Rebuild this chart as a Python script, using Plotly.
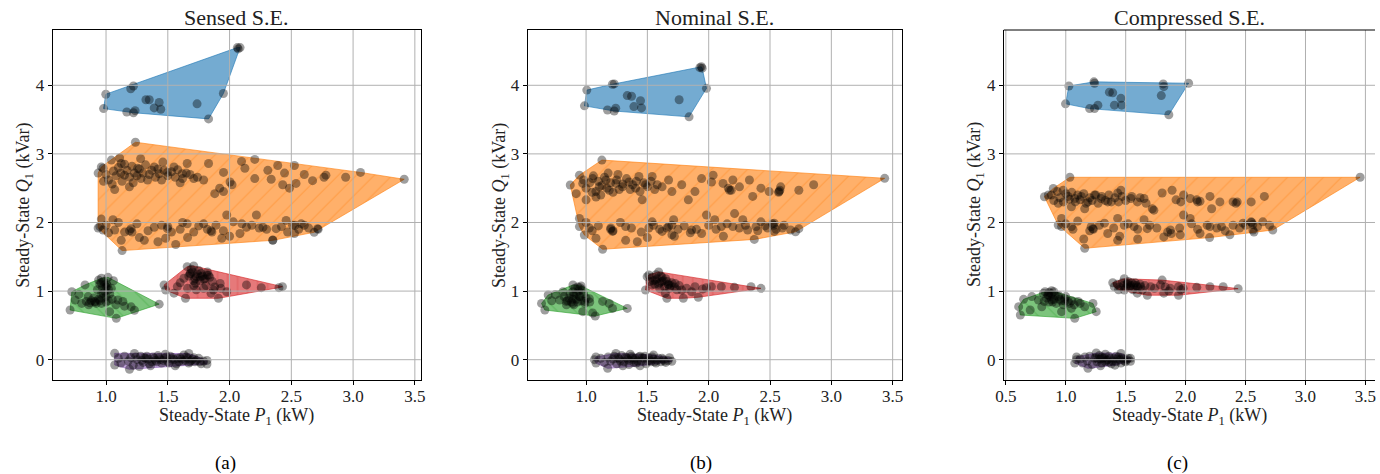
import plotly.graph_objects as go

# ---------------------------------------------------------------------------
# Steady-state operating points (P1 in kW, Q1 in kVar) for five load groups,
# under three state-estimation variants.
# ---------------------------------------------------------------------------

panel_titles = ["Sensed S.E.", "Nominal S.E.", "Compressed S.E."]
panel_captions = ["(a)", "(b)", "(c)"]
x_ticks_ab = [1.0, 1.5, 2.0, 2.5, 3.0, 3.5]
x_ticks_c = [0.5, 1.0, 1.5, 2.0, 2.5, 3.0, 3.5]
y_ticks = [0, 1, 2, 3, 4]

# ---- Sensed S.E. ----
sensed_blue = [(2.063, 4.55), (2.085, 4.55), (2.07, 4.53), (1.222, 3.99), (1.20, 3.95), (0.998, 3.87),
               (0.98, 3.66), (1.168, 3.61), (1.222, 3.60), (1.235, 3.63), (1.323, 3.79), (1.35, 3.79),
               (1.43, 3.75), (1.39, 3.67), (1.443, 3.65), (1.737, 3.73), (1.95, 3.88), (1.83, 3.51)]

sensed_orange = [(0.936, 2.72), (0.962, 2.81), (1.238, 3.17), (3.06, 2.73), (3.414, 2.63), (2.717, 1.90),
                 (2.685, 1.857), (2.35, 1.745), (1.13, 1.59), (0.936, 1.92), (0.95, 1.94),
                 (0.976, 2.79), (1.043, 2.91), (1.123, 2.86), (1.149, 2.69), (1.189, 2.52), (1.256, 2.79),
                 (1.283, 2.64), (1.336, 2.62), (1.39, 2.81), (1.43, 2.71), (1.497, 2.73), (1.55, 2.81),
                 (1.617, 2.71), (1.657, 2.86), (1.71, 2.64), (1.79, 2.62), (1.83, 2.86), (1.951, 2.73),
                 (2.004, 2.59), (1.951, 2.45), (2.097, 2.89), (2.204, 2.92), (2.124, 2.79), (2.204, 2.64),
                 (2.31, 2.76), (2.337, 2.63), (2.39, 2.83), (2.445, 2.72), (2.525, 2.83), (2.538, 2.57),
                 (2.485, 2.50), (2.605, 2.70), (2.672, 2.61), (2.765, 2.66), (2.78, 2.69), (2.94, 2.66),
                 (1.0, 2.70), (1.02, 2.62), (1.06, 2.75), (1.08, 2.68), (1.10, 2.80), (1.12, 2.72),
                 (1.15, 2.85), (1.17, 2.76), (1.19, 2.66), (1.21, 2.82), (1.23, 2.72), (1.25, 2.68),
                 (1.27, 2.78), (1.30, 2.72), (1.32, 2.84), (1.35, 2.70), (1.37, 2.76), (1.40, 2.66),
                 (1.42, 2.78), (1.45, 2.62), (1.47, 2.76), (1.50, 2.68), (1.53, 2.74), (1.56, 2.66),
                 (1.58, 2.77), (1.62, 2.64), (1.65, 2.72), (1.68, 2.70), (1.74, 2.66), (0.98, 2.60),
                 (1.05, 2.56), (1.13, 2.60), (1.22, 2.58), (1.28, 2.93), (1.11, 2.94), (1.46, 2.88),
                 (1.60, 2.58), (1.88, 2.42), (1.92, 2.50), (2.43, 2.55), (2.02, 2.55), (1.07, 2.48),
                 (0.962, 2.05), (0.976, 1.89), (1.056, 2.04), (1.07, 1.89), (1.123, 1.74), (1.203, 1.91),
                 (1.31, 1.74), (1.39, 1.93), (1.497, 1.91), (1.483, 1.77), (1.564, 1.68), (1.657, 1.98),
                 (1.71, 1.86), (1.79, 1.98), (1.857, 1.86), (1.937, 1.77), (1.977, 2.11), (2.03, 2.01),
                 (2.084, 1.84), (2.137, 1.93), (2.217, 2.11), (2.27, 1.93), (2.35, 1.74), (2.377, 1.91),
                 (2.458, 2.03), (2.51, 1.96), (2.525, 1.84), (2.605, 1.96), (2.712, 1.91),
                 (1.0, 1.96), (1.02, 1.85), (1.10, 2.00), (1.15, 1.86), (1.19, 1.88), (1.21, 1.86),
                 (1.25, 1.98), (1.34, 1.88), (1.45, 1.96), (1.50, 1.94), (1.53, 1.86), (1.60, 1.90),
                 (1.62, 2.00), (1.75, 1.95), (1.82, 1.90), (1.85, 1.88), (1.89, 1.96), (1.95, 1.88),
                 (2.10, 1.98), (2.18, 1.96), (2.24, 1.92), (2.30, 1.90), (2.42, 1.94), (2.47, 1.86),
                 (2.53, 1.96), (2.56, 1.90), (2.58, 1.98), (2.64, 1.92), (1.27, 1.78), (1.42, 1.72),
                 (1.66, 1.78), (2.00, 1.80)]

sensed_green = [(0.709, 0.724), (0.723, 0.99), (0.963, 1.187), (1.016, 1.20), (1.083, 0.603), (1.43, 0.81),
                (0.83, 1.09), (0.855, 0.92), (0.909, 0.85), (0.963, 0.82), (1.003, 1.11), (1.043, 1.04),
                (1.096, 0.87), (1.136, 0.85), (1.203, 0.77), (1.23, 0.72), (1.029, 0.70), (0.976, 0.97),
                (0.803, 0.82), (0.75, 0.87), (0.95, 1.10), (0.97, 1.05), (0.99, 1.00), (1.01, 1.08),
                (0.96, 0.95), (1.00, 0.92), (1.03, 0.96), (0.98, 1.14), (0.93, 1.02), (0.88, 0.86),
                (0.92, 0.82), (0.86, 0.80), (0.95, 0.86), (1.00, 0.84), (1.05, 0.88), (0.90, 0.90),
                (0.84, 0.85), (1.06, 1.15), (0.94, 1.16), (1.02, 1.02), (1.08, 0.80), (1.15, 0.78),
                (0.78, 0.95), (0.96, 1.12), (1.00, 1.06), (0.97, 0.90), (0.91, 0.84), (0.87, 0.83),
                (1.02, 0.86), (0.99, 1.09), (0.94, 0.88)]

sensed_red = [(1.47, 1.089), (1.483, 1.016), (1.657, 1.356), (1.71, 1.365), (2.428, 1.065), (1.643, 0.895),
              (1.91, 0.895), (2.40, 1.05), (1.684, 1.26), (1.764, 1.21), (1.817, 1.234), (1.724, 1.113),
              (1.79, 1.04), (1.87, 1.016), (1.924, 1.11), (1.977, 0.99), (1.577, 1.065), (1.55, 0.97),
              (2.137, 1.09), (2.257, 1.05), (1.85, 0.97), (1.63, 1.187), (1.67, 1.22), (1.70, 1.28),
              (1.72, 1.18), (1.74, 1.25), (1.76, 1.15), (1.78, 1.22), (1.80, 1.18), (1.82, 1.28),
              (1.84, 1.20), (1.86, 1.14), (1.69, 1.32), (1.75, 1.30), (1.71, 1.08), (1.81, 1.08),
              (1.88, 1.06), (1.66, 1.04), (1.60, 1.12), (1.93, 1.04), (1.73, 1.02), (1.68, 1.25),
              (1.73, 1.21), (1.77, 1.26), (1.79, 1.17), (1.83, 1.23), (1.71, 1.15)]

sensed_purple = [(1.07, 0.093), (1.07, -0.077), (1.19, -0.14), (1.817, -0.063), (1.817, -0.01), (1.67, 0.09),
                 (1.23, 0.09), (1.10, 0.02), (1.12, -0.05), (1.15, 0.05), (1.18, -0.02), (1.20, 0.03),
                 (1.22, -0.08), (1.25, 0.00), (1.28, 0.05), (1.30, -0.04), (1.32, 0.02), (1.35, -0.06),
                 (1.38, 0.04), (1.40, -0.01), (1.42, 0.06), (1.45, -0.05), (1.47, 0.02), (1.50, -0.03),
                 (1.52, 0.05), (1.55, 0.00), (1.57, -0.06), (1.60, 0.03), (1.62, -0.02), (1.65, 0.04),
                 (1.67, -0.05), (1.70, 0.01), (1.72, -0.03), (1.75, 0.02), (1.77, -0.06), (1.79, -0.02),
                 (1.48, 0.08), (1.36, -0.09), (1.56, -0.09), (1.27, -0.10), (1.63, 0.07), (1.44, 0.00),
                 (1.53, 0.01), (1.58, 0.02), (1.41, -0.03), (1.69, -0.01), (1.34, 0.01), (1.24, 0.04),
                 (1.29, -0.01), (1.33, 0.05), (1.37, -0.03), (1.39, 0.02), (1.43, 0.03), (1.46, -0.01),
                 (1.49, 0.04), (1.51, -0.05), (1.54, 0.03), (1.59, -0.03), (1.61, 0.01), (1.64, -0.01),
                 (1.66, 0.02), (1.68, -0.03), (1.71, 0.03), (1.73, -0.01), (1.76, -0.03), (1.31, 0.03)]

# ---- Nominal S.E. ----
nominal_blue = [(1.928, 4.257), (1.947, 4.25), (1.94, 4.27), (1.982, 3.956), (1.006, 3.93), (0.987, 3.70),
                (1.175, 3.64), (1.23, 3.625), (1.242, 3.665), (1.215, 4.015), (1.23, 4.02), (1.336, 3.85),
                (1.371, 3.84), (1.444, 3.775), (1.39, 3.69), (1.452, 3.67), (1.759, 3.79), (1.84, 3.54)]

nominal_orange = [(1.129, 2.91), (3.435, 2.644), (0.871, 2.547), (0.946, 2.69), (0.946, 1.94), (0.986, 1.818),
                  (1.135, 1.61), (2.372, 1.753), (2.708, 1.864), (2.735, 1.91),
                  (1.054, 2.64), (1.108, 2.52), (1.189, 2.47), (1.243, 2.57), (1.297, 2.52), (1.35, 2.59),
                  (1.404, 2.50), (1.431, 2.67), (1.485, 2.55), (1.539, 2.67), (1.62, 2.52), (1.673, 2.62),
                  (1.70, 2.45), (1.78, 2.55), (1.834, 2.33), (1.888, 2.45), (1.942, 2.64), (2.023, 2.59),
                  (2.036, 2.69), (2.117, 2.57), (2.184, 2.47), (2.251, 2.52), (2.197, 2.62), (2.332, 2.62),
                  (2.359, 2.38), (2.426, 2.50), (2.493, 2.45), (2.574, 2.45), (2.587, 2.52), (2.735, 2.47),
                  (2.856, 2.55), (1.458, 2.33), (1.162, 2.62), (0.973, 2.57), (1.0, 2.33), (0.92, 2.42),
                  (1.081, 2.37), (0.98, 2.62), (1.00, 2.50), (1.03, 2.58), (1.06, 2.68), (1.08, 2.45),
                  (1.10, 2.60), (1.13, 2.54), (1.15, 2.66), (1.17, 2.50), (1.20, 2.58), (1.22, 2.44),
                  (1.25, 2.62), (1.27, 2.48), (1.30, 2.56), (1.33, 2.64), (1.36, 2.48), (1.38, 2.55),
                  (1.41, 2.60), (1.44, 2.45), (1.47, 2.58), (1.50, 2.52), (1.53, 2.60), (1.56, 2.48),
                  (1.58, 2.55), (1.12, 2.40), (1.05, 2.44), (1.26, 2.70), (1.18, 2.72), (2.16, 2.50),
                  (2.17, 2.47), (2.57, 2.44), (2.58, 2.47),
                  (0.946, 2.06), (1.027, 1.92), (1.081, 1.77), (1.202, 1.92), (1.216, 1.87), (1.323, 1.94),
                  (1.323, 1.74), (1.418, 1.72), (1.512, 1.92), (1.539, 2.01), (1.62, 1.87), (1.673, 1.94),
                  (1.714, 2.04), (1.70, 1.82), (1.861, 1.89), (1.942, 1.84), (1.982, 2.11), (2.049, 2.04),
                  (2.103, 1.94), (2.197, 1.94), (2.211, 2.13), (2.278, 2.04), (2.318, 1.89), (2.386, 1.94),
                  (2.426, 2.01), (2.534, 1.99), (2.534, 1.87), (2.614, 1.96), (2.668, 1.89), (2.48, 1.92),
                  (1.00, 2.00), (1.05, 1.88), (1.10, 1.95), (1.20, 1.90), (1.22, 1.88), (1.28, 2.00),
                  (1.37, 1.92), (1.45, 1.86), (1.55, 1.96), (1.60, 1.90), (1.66, 1.92), (1.70, 1.96),
                  (1.75, 1.90), (1.80, 1.95), (1.85, 1.85), (1.90, 1.90), (2.00, 1.96), (2.06, 1.90),
                  (2.15, 1.98), (2.25, 1.92), (2.30, 1.96), (2.40, 1.88), (2.46, 1.95), (2.52, 1.98),
                  (2.53, 1.96), (2.55, 1.90), (2.60, 1.92), (1.50, 1.78), (1.72, 1.80), (2.12, 1.80)]

nominal_green = [(0.691, 0.943), (0.664, 0.724), (0.893, 1.089), (0.96, 1.075), (1.336, 0.748), (1.075, 0.637),
                 (0.637, 0.82), (0.812, 0.99), (0.839, 0.85), (0.893, 0.82), (0.946, 0.92), (0.987, 0.85),
                 (1.027, 0.89), (0.893, 0.99), (0.933, 1.06), (1.135, 0.85), (1.216, 0.748), (1.189, 0.82),
                 (0.973, 0.70), (1.054, 0.68), (0.785, 0.87), (0.86, 0.90), (0.88, 0.84), (0.90, 0.94),
                 (0.92, 0.88), (0.94, 1.00), (0.96, 0.86), (0.98, 0.96), (1.00, 0.90), (0.91, 1.04),
                 (0.95, 1.05), (0.84, 0.80), (0.82, 0.92), (0.99, 0.82), (1.03, 0.84), (0.90, 0.80),
                 (0.87, 0.96), (0.75, 0.95), (0.72, 0.86), (0.92, 0.96), (0.95, 0.92), (0.89, 0.88),
                 (0.85, 0.86), (0.97, 1.02), (0.93, 0.84)]

nominal_red = [(1.498, 1.21), (1.485, 1.016), (1.512, 1.235), (1.592, 1.28), (1.659, 0.895), (1.793, 0.895),
               (1.915, 0.91), (2.426, 1.04), (2.345, 1.064), (1.565, 1.16), (1.619, 1.14), (1.673, 1.09),
               (1.726, 1.11), (1.78, 1.016), (1.861, 0.99), (1.888, 1.064), (2.022, 1.064), (2.103, 1.064),
               (2.21, 1.055), (1.538, 1.09), (1.646, 0.97), (1.52, 1.14), (1.54, 1.20), (1.56, 1.10),
               (1.58, 1.18), (1.60, 1.12), (1.62, 1.20), (1.64, 1.06), (1.66, 1.14), (1.68, 1.04),
               (1.70, 1.12), (1.72, 1.06), (1.74, 1.02), (1.76, 1.08), (1.60, 1.04), (1.57, 1.24),
               (1.65, 1.18), (1.82, 1.04), (1.95, 1.03), (1.98, 1.05), (1.55, 1.15), (1.59, 1.10),
               (1.63, 1.15), (1.67, 1.10), (1.61, 1.22), (1.69, 1.08)]

nominal_purple = [(1.068, 0.0), (1.699, -0.024), (1.243, 0.092), (1.176, -0.126), (1.081, -0.05), (1.68, 0.03),
                  (1.55, 0.07), (1.08, 0.04), (1.12, 0.02), (1.15, -0.04), (1.18, 0.04), (1.20, -0.02),
                  (1.23, 0.05), (1.25, -0.06), (1.27, 0.01), (1.29, 0.06), (1.31, -0.03), (1.33, 0.03),
                  (1.35, -0.07), (1.37, 0.05), (1.39, 0.00), (1.41, -0.05), (1.43, 0.04), (1.45, -0.02),
                  (1.47, 0.02), (1.49, -0.06), (1.51, 0.03), (1.53, -0.03), (1.55, 0.01), (1.57, -0.05),
                  (1.59, 0.02), (1.61, -0.03), (1.63, 0.00), (1.65, -0.04), (1.67, -0.01), (1.36, 0.08),
                  (1.44, -0.09), (1.30, -0.09), (1.40, 0.02), (1.34, 0.01), (1.48, 0.05), (1.26, 0.03),
                  (1.52, -0.01), (1.28, -0.02), (1.32, 0.04), (1.35, -0.01), (1.38, 0.03), (1.42, -0.02),
                  (1.46, 0.03), (1.50, -0.02), (1.54, 0.04), (1.58, -0.01), (1.62, 0.02), (1.64, -0.02),
                  (1.22, 0.01), (1.44, 0.05), (1.56, -0.03), (1.39, -0.04)]

# ---- Compressed S.E. ----
compressed_blue = [(1.026, 3.99), (0.998, 3.73), (1.235, 4.05), (1.24, 4.03), (2.025, 4.03), (1.813, 4.02),
                   (1.818, 3.98), (1.797, 3.85), (1.86, 3.57), (1.199, 3.66), (1.268, 3.71), (1.24, 3.66),
                   (1.364, 3.90), (1.392, 3.89), (1.46, 3.81), (1.406, 3.71), (1.466, 3.71)]

compressed_orange = [(1.034, 2.659), (3.456, 2.659), (0.822, 2.376), (0.896, 2.497), (1.158, 1.624),
                     (0.965, 1.94), (2.727, 1.89), (0.937, 1.963),
                     (0.978, 2.47), (1.02, 2.38), (1.075, 2.35), (1.13, 2.38), (1.185, 2.30), (1.24, 2.40),
                     (1.295, 2.35), (1.35, 2.30), (1.433, 2.43), (1.46, 2.47), (1.543, 2.35), (1.598, 2.30),
                     (1.653, 2.35), (1.722, 2.20), (1.804, 2.43), (1.887, 2.47), (1.983, 2.40), (2.038, 2.35),
                     (2.093, 2.33), (2.203, 2.38), (2.217, 2.20), (2.286, 2.30), (2.396, 2.30), (2.547, 2.30),
                     (2.657, 2.38), (1.047, 2.23), (0.937, 2.28), (1.158, 2.20), (0.855, 2.40),
                     (0.88, 2.40), (0.90, 2.32), (0.93, 2.45), (0.95, 2.36), (0.98, 2.30), (1.00, 2.42),
                     (1.03, 2.34), (1.05, 2.44), (1.08, 2.30), (1.10, 2.40), (1.12, 2.33), (1.15, 2.42),
                     (1.17, 2.28), (1.20, 2.36), (1.22, 2.32), (1.25, 2.40), (1.27, 2.28), (1.30, 2.38),
                     (1.33, 2.32), (1.36, 2.40), (1.38, 2.30), (1.41, 2.36), (1.44, 2.30), (1.47, 2.38),
                     (1.50, 2.32), (1.55, 2.38), (1.62, 2.36), (1.67, 2.28), (2.10, 2.30), (2.12, 2.31),
                     (2.42, 2.28), (2.43, 2.30), (1.92, 2.33), (1.96, 2.30),
                     (0.965, 2.06), (1.047, 1.94), (1.212, 1.94), (1.226, 1.91), (1.323, 1.99), (1.35, 1.84),
                     (1.433, 1.74), (1.488, 1.96), (1.57, 1.94), (1.653, 2.04), (1.68, 1.91), (1.735, 2.18),
                     (1.818, 1.79), (1.873, 1.89), (1.955, 1.82), (1.983, 2.11), (2.038, 2.06), (2.12, 1.84),
                     (2.203, 1.94), (2.299, 1.94), (2.396, 1.96), (2.479, 1.99), (2.547, 2.01), (2.561, 1.89),
                     (2.644, 2.01), (2.369, 1.82), (1.433, 2.06),
                     (1.00, 1.98), (1.06, 1.90), (1.10, 2.02), (1.20, 1.88), (1.23, 1.90), (1.28, 1.96),
                     (1.40, 1.92), (1.45, 1.80), (1.52, 1.98), (1.60, 1.90), (1.70, 1.96), (1.76, 1.92),
                     (1.85, 1.86), (1.88, 1.84), (1.95, 1.92), (2.05, 1.98), (2.10, 1.90), (2.18, 1.96),
                     (2.26, 1.92), (2.33, 1.88), (2.45, 1.92), (2.50, 1.96), (2.55, 2.00), (2.56, 1.97),
                     (2.57, 1.86), (2.60, 1.94), (2.70, 1.96), (1.15, 1.76), (1.60, 1.76), (2.20, 1.78)]

compressed_green = [(0.621, 0.652), (0.648, 0.88), (0.827, 0.991), (0.882, 1.006), (1.075, 0.603), (1.254, 0.70),
                    (1.227, 0.82), (0.607, 0.773), (0.855, 0.94), (0.882, 0.87), (0.937, 0.92), (0.992, 0.89),
                    (1.02, 0.85), (0.80, 0.77), (0.772, 0.87), (0.717, 0.92), (1.103, 0.85), (1.158, 0.77),
                    (0.965, 0.70), (1.047, 0.749), (0.703, 0.725), (0.813, 0.966), (0.84, 0.90), (0.86, 0.84),
                    (0.88, 0.96), (0.90, 0.88), (0.92, 0.82), (0.94, 0.94), (0.96, 0.86), (0.98, 0.80),
                    (1.00, 0.92), (1.03, 0.82), (1.05, 0.86), (0.86, 0.98), (0.90, 0.99), (0.82, 0.85),
                    (1.07, 0.80), (1.12, 0.82), (0.87, 0.92), (0.91, 0.94), (0.95, 0.88), (0.89, 0.84),
                    (0.99, 0.86), (0.85, 0.95)]

compressed_red = [(1.392, 1.122), (1.488, 1.18), (2.438, 1.035), (1.68, 0.94), (1.941, 0.94), (1.405, 1.064),
                  (1.804, 1.16), (1.515, 1.11), (1.57, 1.09), (1.625, 1.064), (1.488, 1.016), (1.708, 1.064),
                  (1.79, 1.09), (1.873, 1.04), (1.941, 1.064), (2.093, 1.055), (2.203, 1.064), (2.313, 1.064),
                  (1.818, 0.97), (1.597, 0.97), (1.43, 1.10), (1.45, 1.06), (1.47, 1.12), (1.50, 1.05),
                  (1.52, 1.14), (1.54, 1.08), (1.56, 1.02), (1.58, 1.12), (1.60, 1.06), (1.62, 1.10),
                  (1.64, 1.02), (1.44, 1.02), (1.66, 1.08), (1.74, 1.04), (1.83, 1.06), (1.86, 1.00),
                  (1.96, 1.02), (1.98, 1.04), (1.48, 1.08), (1.51, 1.10), (1.53, 1.06), (1.55, 1.12),
                  (1.57, 1.05), (1.59, 1.08)]

compressed_purple = [(1.089, 0.0), (1.54, -0.024), (1.254, 0.098), (1.185, -0.126), (1.075, -0.05), (1.46, 0.092),
                     (1.54, 0.02), (1.09, 0.04), (1.12, 0.01), (1.14, -0.05), (1.16, 0.04), (1.18, -0.02),
                     (1.20, 0.05), (1.22, -0.07), (1.24, 0.02), (1.26, -0.03), (1.28, 0.06), (1.30, -0.05),
                     (1.32, 0.03), (1.34, -0.01), (1.36, 0.05), (1.38, -0.06), (1.40, 0.02), (1.42, -0.03),
                     (1.44, 0.04), (1.46, -0.05), (1.48, 0.01), (1.50, -0.03), (1.52, 0.02), (1.33, 0.08),
                     (1.29, -0.09), (1.41, -0.08), (1.35, 0.00), (1.27, 0.01), (1.45, 0.00), (1.31, 0.02),
                     (1.25, 0.03), (1.29, 0.01), (1.33, -0.03), (1.37, 0.02), (1.39, -0.02), (1.43, 0.01),
                     (1.47, 0.03), (1.49, -0.02), (1.51, 0.00), (1.36, -0.04), (1.30, 0.04), (1.42, 0.05)]

# ---------------------------------------------------------------------------
# Styling
# ---------------------------------------------------------------------------
FONT = "'Liberation Serif', 'Times New Roman', Times, 'DejaVu Serif', serif"
TEXT = "#222222"
GRID = "#b0b0b0"
# (rgb, hatch shape, hatch tile size) per load group
group_styles = [
    ((31, 119, 180), "", 0),
    ((255, 127, 14), "/", 12.7),
    ((44, 160, 44), "\\", 12.7),
    ((214, 39, 40), "|", 10),
    ((148, 103, 189), "-", 10),
]

panels = [
    dict(groups=[sensed_blue, sensed_orange, sensed_green, sensed_red, sensed_purple],
         dom=(44, 416), xr=(0.567, 3.548), xt=x_ticks_ab, cap_x=219, ytitle_x=16),
    dict(groups=[nominal_blue, nominal_orange, nominal_green, nominal_red, nominal_purple],
         dom=(524, 902), xr=(0.524, 3.575), xt=x_ticks_ab, cap_x=699, ytitle_x=497),
    dict(groups=[compressed_blue, compressed_orange, compressed_green, compressed_red, compressed_purple],
         dom=(1005, 1380), xr=(0.483, 3.58), xt=x_ticks_c, cap_x=1180, ytitle_x=977),
]

W, H = 1380, 474
PLOT_TOP, PLOT_BOTTOM = 30, 380
Y_RANGE = (-0.296, 4.806)


def convex_hull(points):
    pts = sorted(set(points))

    def cross(o, a, b):
        return (a[0] - o[0]) * (b[1] - o[1]) - (a[1] - o[1]) * (b[0] - o[0])

    lower = []
    for p in pts:
        while len(lower) >= 2 and cross(lower[-2], lower[-1], p) <= 0:
            lower.pop()
        lower.append(p)
    upper = []
    for p in reversed(pts):
        while len(upper) >= 2 and cross(upper[-2], upper[-1], p) <= 0:
            upper.pop()
        upper.append(p)
    return lower[:-1] + upper[:-1]


fig = go.Figure()
shapes = []
annotations = []
y_dom = (1 - PLOT_BOTTOM / H, 1 - PLOT_TOP / H)

for i, (panel, title, caption) in enumerate(zip(panels, panel_titles, panel_captions)):
    n = "" if i == 0 else str(i + 1)
    xa, ya = "x" + n, "y" + n

    # hull polygons
    for pts, (rgb, hatch, hsize) in zip(panel["groups"], group_styles):
        hull = convex_hull(pts)
        hx = [p[0] for p in hull] + [hull[0][0]]
        hy = [p[1] for p in hull] + [hull[0][1]]
        fill = "rgba(%d,%d,%d,0.62)" % rgb
        kw = dict(x=hx, y=hy, xaxis=xa, yaxis=ya, mode="lines", fill="toself",
                  fillcolor=fill, line=dict(color=fill, width=1), hoverinfo="skip", showlegend=False)
        if hatch:
            kw["fillpattern"] = dict(shape=hatch, size=hsize, solidity=0.085, fillmode="overlay",
                                     bgcolor=fill, fgcolor="rgba(%d,%d,%d,0.8)" % rgb)
        fig.add_trace(go.Scatter(**kw))

    # operating points
    for pts in panel["groups"]:
        fig.add_trace(go.Scatter(
            x=[p[0] for p in pts], y=[p[1] for p in pts], xaxis=xa, yaxis=ya, mode="markers",
            marker=dict(size=9, color="rgba(0,0,0,0.38)", line=dict(width=0)),
            hoverinfo="skip", showlegend=False))

    x0, x1 = panel["dom"]
    last = i == 2
    fig.update_layout({
        "xaxis" + n: dict(domain=[x0 / W, x1 / W], range=list(panel["xr"]), anchor=ya,
                          tickvals=panel["xt"], ticktext=["%.1f" % v for v in panel["xt"]],
                          showgrid=False, zeroline=False, showline=True, linecolor="black", linewidth=1,
                          mirror=False if last else True, ticks="outside", ticklen=4, tickcolor="black",
                          ticklabelstandoff=-3,
                          tickfont=dict(family=FONT, size=17, color=TEXT)),
        "yaxis" + n: dict(domain=list(y_dom), range=list(Y_RANGE), anchor=xa,
                          tickvals=y_ticks, showgrid=False, zeroline=False, showline=True,
                          linecolor="black", linewidth=1, mirror=False if last else True,
                          ticks="outside", ticklen=4, tickcolor="black",
                          tickfont=dict(family=FONT, size=17, color=TEXT)),
    })

    # grid drawn above the filled regions
    for v in panel["xt"]:
        shapes.append(dict(type="line", xref=xa, yref=ya + " domain", x0=v, x1=v, y0=0, y1=1,
                           line=dict(color=GRID, width=1), layer="above"))
    for v in y_ticks:
        shapes.append(dict(type="line", xref=xa + " domain", yref=ya, x0=0, x1=1, y0=v, y1=v,
                           line=dict(color=GRID, width=1), layer="above"))
    if last:
        shapes.append(dict(type="line", xref=xa + " domain", yref=ya + " domain", x0=0, x1=1, y0=1, y1=1,
                           line=dict(color="black", width=1), layer="above"))

    cx = (x0 + x1) / 2 / W
    annotations += [
        dict(text=title, x=cx, y=1 - 17 / H, xref="paper", yref="paper", showarrow=False,
             font=dict(family=FONT, size=22, color=TEXT), xanchor="center", yanchor="middle"),
        dict(text="Steady-State <i>P</i><sub>1</sub> (kW)", x=cx, y=1 - 416 / H, xref="paper", yref="paper",
             showarrow=False, font=dict(family=FONT, size=18, color=TEXT), xanchor="center", yanchor="middle"),
        dict(text="Steady-State <i>Q</i><sub>1</sub> (kVar)", x=panel["ytitle_x"] / W, y=1 - 205 / H,
             xref="paper", yref="paper", showarrow=False, textangle=-90,
             font=dict(family=FONT, size=18, color=TEXT), xanchor="center", yanchor="middle"),
        dict(text=caption, x=panel["cap_x"] / W, y=1 - 463 / H, xref="paper", yref="paper", showarrow=False,
             font=dict(family=FONT, size=19, color="black"), xanchor="center", yanchor="middle"),
    ]

fig.update_layout(width=W, height=H, autosize=False, margin=dict(l=0, r=0, t=0, b=0),
                  paper_bgcolor="white", plot_bgcolor="white", shapes=shapes, annotations=annotations)

fig.write_html("out.html")
